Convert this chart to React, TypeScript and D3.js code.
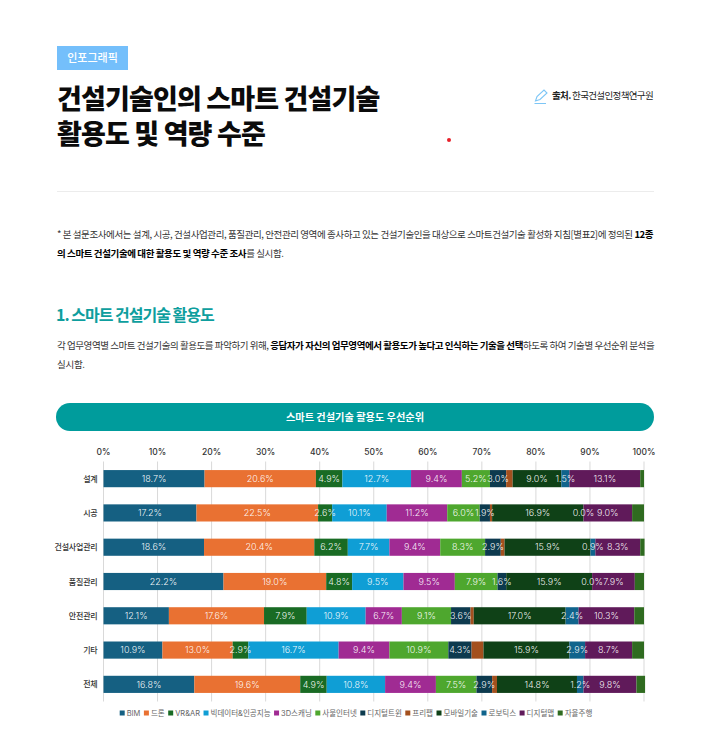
import * as d3 from 'd3'

const regions = ['설계', '시공', '건설사업관리', '품질관리', '안전관리', '기타', '전체']
const techs = ['BIM', '드론', 'VR&AR', '빅데이터&인공지능', '3D스캐닝', '사물인터넷', '디지털트윈', '프리팹', '모바일기술', '로보틱스', '디지털맵', '자율주행']
const techColors = ['#156082', '#E97132', '#196B24', '#0F9ED5', '#A02B93', '#4EA72E', '#0D3A4E', '#A3501E', '#0F4117', '#10648C', '#601A5A', '#2F6B20']
const unlabeled = ['프리팹', '자율주행']

const seriesBim = [18.7, 17.2, 18.6, 22.2, 12.1, 10.9, 16.8]
const seriesDrone = [20.6, 22.5, 20.4, 19.0, 17.6, 13.0, 19.6]
const seriesVr = [4.9, 2.6, 6.2, 4.8, 7.9, 2.9, 4.9]
const seriesBigData = [12.7, 10.1, 7.7, 9.5, 10.9, 16.7, 10.8]
const seriesScan = [9.4, 11.2, 9.4, 9.5, 6.7, 9.4, 9.4]
const seriesIot = [5.2, 6.0, 8.3, 7.9, 9.1, 10.9, 7.5]
const seriesTwin = [3.0, 1.9, 2.9, 1.6, 3.6, 4.3, 2.9]
const seriesPrefab = [1.2, 0.4, 0.7, 0.0, 0.6, 2.2, 0.9]
const seriesMobile = [9.0, 16.9, 15.9, 15.9, 17.0, 15.9, 14.8]
const seriesRobot = [1.5, 0.0, 0.9, 0.0, 2.4, 2.9, 1.2]
const seriesMap = [13.1, 9.0, 8.3, 7.9, 10.3, 8.7, 9.8]
const seriesAuto = [0.7, 2.2, 0.8, 1.7, 1.8, 2.2, 1.6]
const allSeries = [seriesBim, seriesDrone, seriesVr, seriesBigData, seriesScan, seriesIot, seriesTwin, seriesPrefab, seriesMobile, seriesRobot, seriesMap, seriesAuto]

const kr = '"Noto Sans CJK KR", "Noto Sans", sans-serif'
const num = 'Inter, "Noto Sans CJK KR", sans-serif'
const legendFont = `7.5px ${num}`

const rows = regions.map((region, i) => {
  const row: Record<string, number | string> = { region }
  techs.forEach((t, k) => { row[t] = allSeries[k][i] })
  return row
})

function measure(text: string) {
  const ctx = document.createElement('canvas').getContext('2d')!
  ctx.font = legendFont
  return ctx.measureText(text).width
}

export default function App() {
  const x = d3.scaleLinear().domain([0, 100]).range([103.5, 644])
  const y = d3.scaleBand<string>().domain(regions).range([461.5, 701.5]).paddingInner(0.5).paddingOuter(0.25)
  const color = d3.scaleOrdinal<string, string>().domain(techs).range(techColors)
  const stacked = d3.stack<any>().keys(techs)(rows)

  // legend flows left to right, centred under the plot
  const legendWidths = techs.map((t) => measure(t) + 7)
  const legendGap = 3.5
  const legendTotal = d3.sum(legendWidths) + legendGap * (techs.length - 1)
  let legendX = 356 - legendTotal / 2
  const legendItems = techs.map((t, i) => {
    const at = legendX
    legendX += legendWidths[i] + legendGap
    return { t, at }
  })

  return (
    <svg width={705} height={731} viewBox="0 0 705 731" style={{ position: 'absolute', left: 0, top: 0, display: 'block', background: '#fff' }}>
      <rect x={57} y={46} width={71} height={24} fill="#74BFFB" />
      <text x={92.5} y={62} textAnchor="middle" fontFamily={kr} fontSize={11} fontWeight={500} fill="#fff">인포그래픽</text>

      <text fontFamily={kr} fontSize={27} fontWeight={900} fill="#0b0b0b" letterSpacing={-0.85}>
        <tspan x={57} y={109}>건설기술인의 스마트 건설기술</tspan>
        <tspan x={57} y={144}>활용도 및 역량 수준</tspan>
      </text>

      <path d="M535.5 101 L537 96.5 L544 90 L547 93 L540 99.5 Z M534.5 103.5 H546" fill="none" stroke="#7DC6F6" strokeWidth={1.1} />
      <text x={552} y={99} fontFamily={kr} fontSize={9.5} fill="#222" letterSpacing={-0.65}>
        <tspan fontWeight={700}>출처.</tspan> 한국건설인정책연구원
      </text>
      <circle cx={449} cy={140} r={2} fill="#E8202A" />
      <line x1={57} x2={654} y1={191.5} y2={191.5} stroke="#ECECEC" />

      <g fontFamily={kr} fontSize={9.5} fill="#333">
        <text x={57} y={238} letterSpacing={-0.41}>
          * 본 설문조사에서는 설계, 시공, 건설사업관리, 품질관리, 안전관리 영역에 종사하고 있는 건설기술인을 대상으로 스마트건설기술 활성화 지침[별표2]에 정의된 <tspan fontWeight={700} fill="#000">12종</tspan>
        </text>
        <text x={57} y={257} letterSpacing={-0.4}>
          <tspan fontWeight={700} fill="#000">의 스마트 건설기술에 대한 활용도 및 역량 수준 조사</tspan>를 실시함.
        </text>
        <text x={57} y={349} letterSpacing={-0.44}>
          각 업무영역별 스마트 건설기술의 활용도를 파악하기 위해, <tspan fontWeight={700} fill="#000">응답자가 자신의 업무영역에서 활용도가 높다고 인식하는 기술을 선택</tspan>하도록 하여 기술별 우선순위 분석을
        </text>
        <text x={57} y={368} letterSpacing={-0.3}>실시함.</text>
      </g>

      <text x={56} y={321} fontFamily={kr} fontSize={16} fontWeight={700} fill="#0E9E9E" letterSpacing={-1}>1. 스마트 건설기술 활용도</text>

      <rect x={56} y={403} width={598} height={28} rx={14} fill="#009C9C" />
      <text x={355} y={421} textAnchor="middle" fontFamily={kr} fontSize={10.2} fontWeight={700} fill="#fff">스마트 건설기술 활용도 우선순위</text>

      {x.ticks(10).map((tick) => (
        <g key={tick}>
          <line x1={x(tick)} x2={x(tick)} y1={461.5} y2={701.5} stroke="#D9D9D9" strokeWidth={1} />
          <text x={x(tick)} y={455} textAnchor="middle" fontFamily={num} fontSize={8.5} fontWeight={500} fill="#333">{tick}%</text>
        </g>
      ))}

      {regions.map((r) => (
        <text key={r} x={97.5} y={y(r)! + y.bandwidth() / 2 + 3} textAnchor="end" fontFamily={kr} fontSize={8} fontWeight={500} fill="#333" letterSpacing={-0.2}>{r}</text>
      ))}

      {stacked.map((layer) => (
        <g key={layer.key}>
          {layer.map((d) => {
            const region = d.data.region as string
            const x0 = x(d[0])
            const x1 = x(d[1])
            return (
              <g key={region}>
                <rect x={x0} y={y(region)} width={Math.max(0, x1 - x0)} height={y.bandwidth()} fill={color(layer.key)} />
              </g>
            )
          })}
        </g>
      ))}

      {stacked.filter((layer) => !unlabeled.includes(layer.key)).map((layer) => (
        <g key={layer.key}>
          {layer.map((d) => {
            const region = d.data.region as string
            return (
              <text key={region} x={x((d[0] + d[1]) / 2)} y={y(region)! + y.bandwidth() / 2 + 3.2} textAnchor="middle" fontFamily={num} fontSize={9} fontWeight={300} fill="#fff" fillOpacity={0.95}>
                {(d[1] - d[0]).toFixed(1)}%
              </text>
            )
          })}
        </g>
      ))}

      {legendItems.map(({ t, at }) => (
        <g key={t}>
          <rect x={at} y={710.5} width={5} height={5} fill={color(t)} />
          <text x={at + 7} y={716} style={{ font: legendFont }} fill="#666">{t}</text>
        </g>
      ))}
    </svg>
  )
}
